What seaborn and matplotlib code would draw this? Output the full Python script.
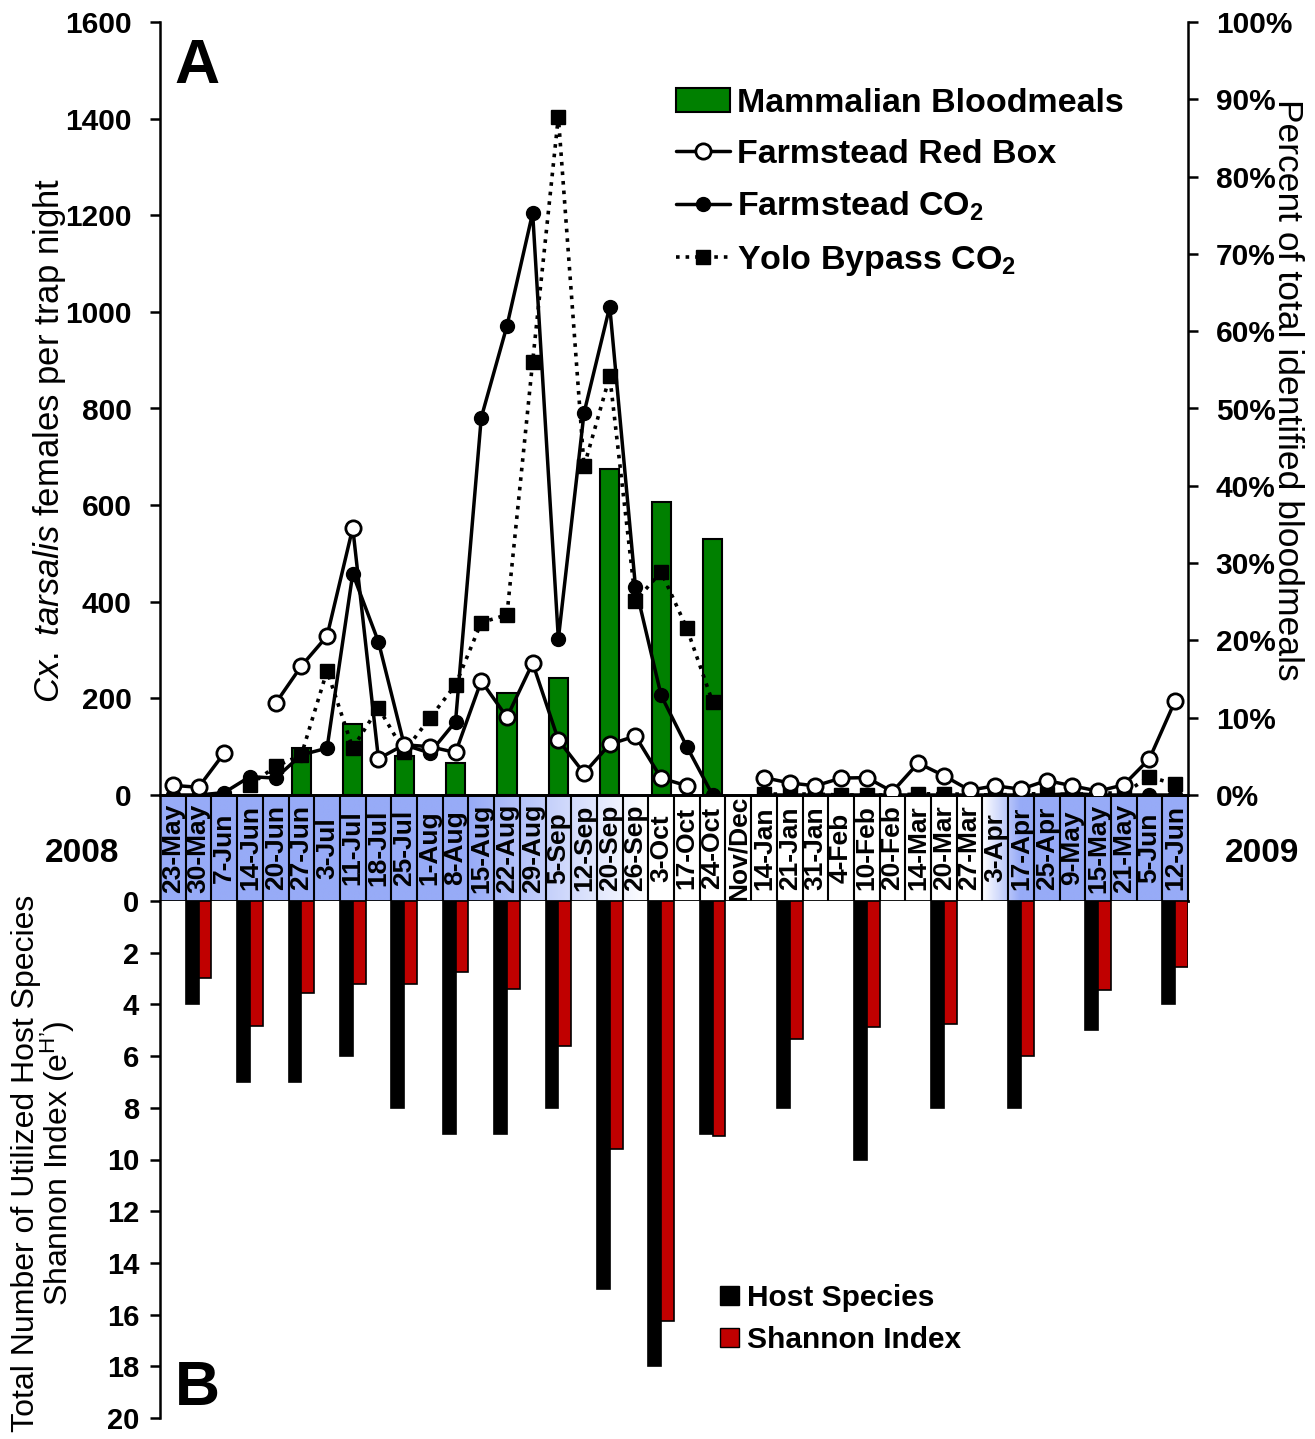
import numpy as np
import pandas as pd
import matplotlib
matplotlib.use("Agg")
import matplotlib.pyplot as plt
import seaborn as sns
from matplotlib.patches import Patch
from matplotlib.lines import Line2D
from matplotlib.colors import to_rgb

# sampling dates (2008 season -> 2009 season)
dates = ["23-May", "30-May", "7-Jun", "14-Jun", "20-Jun", "27-Jun", "3-Jul", "11-Jul",
         "18-Jul", "25-Jul", "1-Aug", "8-Aug", "15-Aug", "22-Aug", "29-Aug", "5-Sep",
         "12-Sep", "20-Sep", "26-Sep", "3-Oct", "17-Oct", "24-Oct", "Nov/Dec", "14-Jan",
         "21-Jan", "31-Jan", "4-Feb", "10-Feb", "20-Feb", "14-Mar", "20-Mar", "27-Mar",
         "3-Apr", "17-Apr", "25-Apr", "9-May", "15-May", "21-May", "5-Jun", "12-Jun"]

nan = np.nan
# females per trap night
red_box = [20, 16, 87, nan, 190, 267, 329, 553, 75, 104, 100, 88, 236, 161, 273, 114,
           45, 105, 122, 35, 19, nan, nan, 36, 25, 19, 35, 36, 7, 66, 40, 10,
           19, 12, 30, 19, 8, 21, 75, 195]
farm_co2 = [0, 0, 5, 38, 35, 83, 97, 458, 317, 104, 87, 152, 781, 971, 1205, 323,
            791, 1011, 431, 206, 100, 0, nan, 0, 0, 0, 0, 0, 0, 0, 0, 0,
            0, 0, 0, 3, 0, 0, 0, 0]
yolo_co2 = [nan, nan, nan, 21, 59, 83, 257, 97, 181, 90, 159, 228, 357, 373, 897, 1404,
            680, 867, 402, 462, 345, 193, nan, 2, 2, 2, 0, 0, 0, 2, 3, 1,
            0, 2, 3, 0, 5, 3, 38, 22]

# percent mammalian bloodmeals
bloodmeal_dates = ["27-Jun", "11-Jul", "25-Jul", "8-Aug", "22-Aug", "5-Sep", "20-Sep", "3-Oct", "24-Oct"]
bloodmeal_pct = [6.1, 9.2, 5.0, 4.1, 13.2, 15.1, 42.2, 37.9, 33.1]

# host diversity
host_dates = ["30-May", "14-Jun", "27-Jun", "11-Jul", "25-Jul", "8-Aug", "22-Aug", "5-Sep",
              "20-Sep", "3-Oct", "24-Oct", "21-Jan", "10-Feb", "20-Mar", "17-Apr", "15-May", "12-Jun"]
host_species = [4, 7, 7, 6, 8, 9, 9, 8, 15, 18, 9, 8, 10, 8, 8, 5, 4]
shannon_index = [2.97, 4.84, 3.55, 3.22, 3.21, 2.73, 3.42, 5.6, 9.61, 16.25, 9.08,
                 5.35, 4.86, 4.77, 6.0, 3.44, 2.57]

W, H = 1315, 1439


def fx(px):
    return px / W


def fy(py):
    return 1 - py / H


sns.set_theme(style="ticks")
plt.rcParams["font.family"] = ["Liberation Sans", "DejaVu Sans"]
plt.rcParams["mathtext.fontset"] = "custom"
plt.rcParams["mathtext.rm"] = "Liberation Sans"
plt.rcParams["mathtext.it"] = "Liberation Sans:italic"
plt.rcParams["mathtext.bf"] = "Liberation Sans:bold"
for key in ("axes.edgecolor", "xtick.color", "ytick.color", "text.color", "axes.labelcolor"):
    plt.rcParams[key] = "black"

fig = plt.figure(figsize=(W / 100, H / 100), dpi=100)
x0, x1 = 160, 1188
ax = fig.add_axes([fx(x0), fy(795), (x1 - x0) / W, (795 - 22) / H])
band = fig.add_axes([fx(x0), fy(901), (x1 - x0) / W, (901 - 795) / H])
axb = fig.add_axes([fx(x0), fy(1418), (x1 - x0) / W, (1418 - 901) / H])
ax2 = ax.twinx()

# --- panel A: bars on the percent axis, lines on the count axis
df_bm = pd.DataFrame({"date": bloodmeal_dates, "pct": bloodmeal_pct})
sns.barplot(data=df_bm, x="date", y="pct", order=dates, color="#008000", saturation=1,
            edgecolor="black", linewidth=1.5, width=0.75, errorbar=None, ax=ax2)

xpos = np.arange(len(dates))
ax.plot(xpos, yolo_co2, color="black", lw=2.6, ls=":", marker="s", ms=9.5,
        mfc="black", mec="black", zorder=3)
ax.plot(xpos, farm_co2, color="black", lw=2.5, marker="o", ms=10,
        mfc="black", mec="black", zorder=4)
ax.plot(xpos, red_box, color="black", lw=2.5, marker="o", ms=11,
        mfc="white", mec="black", mew=2, zorder=5)

ax.set_zorder(ax2.get_zorder() + 1)
ax.patch.set_visible(False)

for a in (ax, ax2, band, axb):
    a.set_xlim(-0.5, len(dates) - 0.5)
    a.set_xticks([])
    a.set_xlabel("")
    a.set_ylabel("")

ax.set_ylim(0, 1600)
ax.set_yticks(range(0, 1601, 200), labels=[str(v) for v in range(0, 1601, 200)],
              fontsize=21.5, fontweight="bold")
ax.tick_params(axis="y", direction="out", length=7, width=1.8, pad=13.5)
ax2.set_ylim(0, 100)
ax2.set_yticks(range(0, 101, 10), labels=[f"{v}%" for v in range(0, 101, 10)],
               fontsize=21.5, fontweight="bold")
ax2.tick_params(axis="y", direction="out", length=7, width=1.8, pad=13)

for s in ("top", "right"):
    ax.spines[s].set_visible(False)
for s in ("top", "left", "bottom"):
    ax2.spines[s].set_visible(False)
ax.spines["left"].set_linewidth(1.8)
ax.spines["bottom"].set_linewidth(2)
ax2.spines["right"].set_linewidth(1.8)

leg_handles = [
    Patch(facecolor="#008000", edgecolor="black", lw=1.5),
    Line2D([], [], color="black", lw=2.5, marker="o", ms=11, mfc="white", mec="black", mew=2),
    Line2D([], [], color="black", lw=2.5, marker="o", ms=10, mfc="black", mec="black"),
    Line2D([], [], color="black", lw=2.6, ls=":", marker="s", ms=9.5, mfc="black", mec="black"),
]
leg_labels = ["Mammalian Bloodmeals", "Farmstead Red Box",
              r"Farmstead CO$_\mathbf{2}$", r"Yolo Bypass CO$_\mathbf{2}$"]
ax.legend(leg_handles, leg_labels, loc="upper left", bbox_to_anchor=(fx(676), fy(88)),
          bbox_transform=fig.transFigure, frameon=False,
          prop={"size": 24.5, "weight": "bold"}, handlelength=1.6, handletextpad=0.2,
          labelspacing=0.58, borderpad=0, borderaxespad=0)

# --- date band
gx = np.linspace(-0.5, len(dates) - 0.5, 800)
alpha = np.interp(gx, [-0.5, 11.5, 18.5, 31.5, 33.0, 39.5], [1, 1, 0, 0, 1, 1])
blue = np.array(to_rgb("#97abf7"))
img = (1 - alpha)[:, None] + alpha[:, None] * blue[None, :]
band.imshow(img[None, :, :], extent=(-0.5, len(dates) - 0.5, 0, 1), aspect="auto",
            interpolation="bilinear")
for b in np.arange(0.5, len(dates) - 1, 1):
    band.axvline(b, color="black", lw=1.5)
for i, d in enumerate(dates):
    band.text(i, 0.5, d, rotation=90, ha="center", va="center", fontsize=19,
              fontweight="bold")
band.set_ylim(0, 1)
band.set_yticks([])
for s in ("top", "bottom"):
    band.spines[s].set_linewidth(2)
band.spines["left"].set_linewidth(1.8)
band.spines["right"].set_linewidth(1.5)

# --- panel B
df_host = pd.DataFrame({
    "date": host_dates * 2,
    "value": host_species + shannon_index,
    "measure": ["Host Species"] * len(host_dates) + ["Shannon Index"] * len(host_dates),
})
sns.barplot(data=df_host, x="date", y="value", hue="measure", order=dates,
            hue_order=["Host Species", "Shannon Index"], palette=["black", "#c00000"],
            saturation=1, width=1.0, edgecolor="black", linewidth=1.2,
            errorbar=None, legend=False, ax=axb)
axb.set_xlim(-0.5, len(dates) - 0.5)
axb.set_xticks([])
axb.set_xlabel("")
axb.set_ylabel("")
axb.set_ylim(20, 0)
axb.set_yticks(range(0, 21, 2), labels=[str(v) for v in range(0, 21, 2)],
               fontsize=21, fontweight="bold")
axb.tick_params(axis="y", direction="out", length=7, width=1.8, pad=8)
for s in ("top", "right", "bottom"):
    axb.spines[s].set_visible(False)
axb.spines["left"].set_linewidth(1.8)

axb.legend([Patch(facecolor="black", edgecolor="black"),
            Patch(facecolor="#c00000", edgecolor="black")],
           ["Host Species", "Shannon Index"], loc="upper left",
           bbox_to_anchor=(fx(720), fy(1284)), bbox_transform=fig.transFigure,
           frameon=False, prop={"size": 21.5, "weight": "bold"}, handlelength=0.62,
           handleheight=0.6, handletextpad=0.28, labelspacing=0.48, borderpad=0,
           borderaxespad=0)

# --- axis titles and annotations
fig.text(fx(50), fy(440), r"$\it{Cx.\ tarsalis}$ females per trap night", rotation=90,
         ha="center", va="center", fontsize=25)
fig.text(fx(1287), fy(390), "Percent of total identified bloodmeals", rotation=270,
         ha="center", va="center", fontsize=25.5)
fig.text(fx(44), fy(1163),
         "Total Number of Utilized Host Species\nShannon Index (e$^{\\mathregular{H\u2019}}$)",
         rotation=90, ha="center", va="center", fontsize=23, linespacing=0.95,
         multialignment="center")
fig.text(fx(82), fy(862), "2008", ha="center", va="baseline", fontsize=24, fontweight="bold")
fig.text(fx(1262), fy(862), "2009", ha="center", va="baseline", fontsize=24, fontweight="bold")
fig.text(fx(197), fy(83), "A", ha="center", va="baseline", fontsize=45, fontweight="bold")
fig.text(fx(197), fy(1405), "B", ha="center", va="baseline", fontsize=45, fontweight="bold")

fig.savefig("out.png", dpi=100)
